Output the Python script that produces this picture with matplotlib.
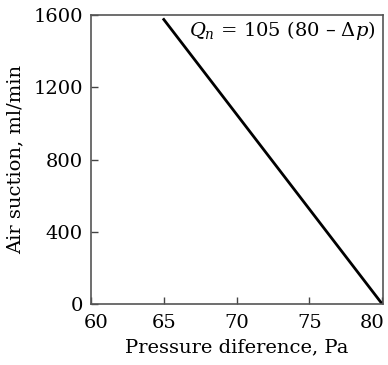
import matplotlib
matplotlib.use("Agg")
import matplotlib.pyplot as plt
import matplotlib.transforms as mtransforms
import numpy as np

# data: Q_n = 105 (80 - dp)
dp = [65, 80]
q = [1575, 0]
xticks = [60, 65, 70, 75, 80]
yticks = [0, 400, 800, 1200, 1600]

plt.rcParams['font.family'] = 'DejaVu Serif'
plt.rcParams['mathtext.fontset'] = 'dejavuserif'

fig = plt.figure(figsize=(3.88, 3.65), dpi=100)
ax = fig.add_axes([0.2345, 0.167, 0.987 - 0.2345, 0.959 - 0.167])
ax.plot(dp, q, color='black', lw=2)
ax.set_xlim(60, 80.05)
ax.set_ylim(0, 1600)
ax.set_xticks(xticks)
ax.set_yticks(yticks)
ax.tick_params(direction='in', labelsize=14, length=5, width=1, color='#444444')
ax.tick_params(axis='x', pad=7)
ax.tick_params(axis='y', pad=6)
for s in ax.spines.values():
    s.set_color('#555555')
    s.set_linewidth(1.2)

# end labels sit a little inside the axes, as in the original
xlabels = ax.get_xticklabels()
xlabels[0].set_transform(xlabels[0].get_transform() +
                         mtransforms.ScaledTranslation(5 / 100, 0, fig.dpi_scale_trans))
xlabels[-1].set_horizontalalignment('right')
xlabels[-1].set_transform(xlabels[-1].get_transform() +
                          mtransforms.ScaledTranslation(2 / 100, 0, fig.dpi_scale_trans))

ax.set_xlabel('Pressure diference, Pa', fontsize=14, labelpad=5)
ax.set_ylabel('Air suction, ml/min', fontsize=14, labelpad=6)
ax.text(0.975, 0.985, r'$Q_n$ = 105 (80 – Δ$p$)', transform=ax.transAxes,
        ha='right', va='top', fontsize=14)

fig.savefig('out.png', dpi=100)
